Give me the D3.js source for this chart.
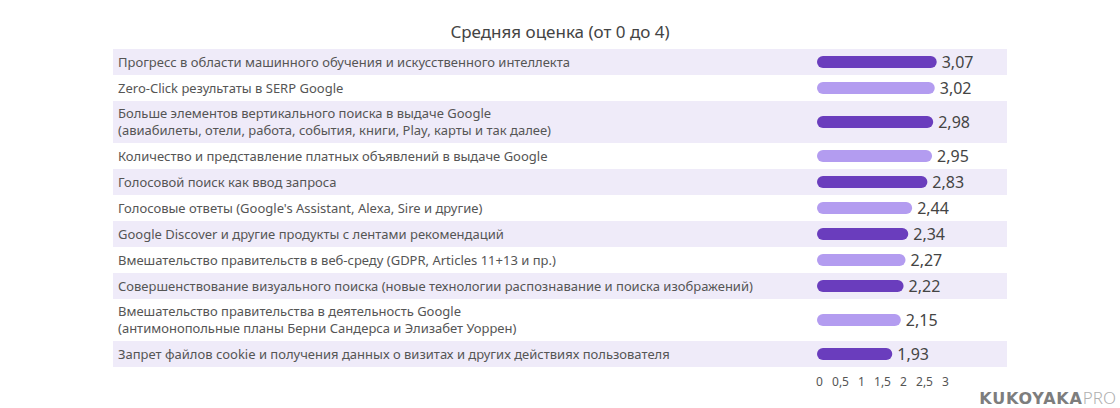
<!DOCTYPE html>
<html>
<head>
<meta charset="utf-8">
<script src="https://cdn.jsdelivr.net/npm/d3@7"></script>
<style>
html,body{margin:0;padding:0;background:#fff;}
svg{display:block;}
</style>
</head>
<body>
<svg id="chart" width="1120" height="408"></svg>
<script>
const title = "Средняя оценка (от 0 до 4)";
const categories = [
  ["Прогресс в области машинного обучения и искусственного интеллекта"],
  ["Zero-Click результаты в SERP Google"],
  ["Больше элементов вертикального поиска в выдаче Google", "(авиабилеты, отели, работа, события, книги, Play, карты и так далее)"],
  ["Количество и представление платных объявлений в выдаче Google"],
  ["Голосовой поиск как ввод запроса"],
  ["Голосовые ответы (Google's Assistant, Alexa, Sire и другие)"],
  ["Google Discover и другие продукты с лентами рекомендаций"],
  ["Вмешательство правительств в веб-среду (GDPR, Articles 11+13 и пр.)"],
  ["Совершенствование визуального поиска (новые технологии распознавание и поиска изображений)"],
  ["Вмешательство правительства в деятельность Google", "(антимонопольные планы Берни Сандерса и Элизабет Уоррен)"],
  ["Запрет файлов cookie и получения данных о визитах и других действиях пользователя"]
];
const values = [3.07, 3.02, 2.98, 2.95, 2.83, 2.44, 2.34, 2.27, 2.22, 2.15, 1.93];
const tickValues = [0, 0.5, 1, 1.5, 2, 2.5, 3];

const svg = d3.select("#chart");
const fmt = v => String(v).replace(".", ",");

// row layout
const rowTop = 49, singleH = 26, doubleH = 42;
let acc = rowTop;
const rows = categories.map((lines, i) => {
  const h = lines.length > 1 ? doubleH : singleH;
  const r = {lines, value: values[i], y: acc, h, i};
  acc += h;
  return r;
});

const bandLeft = 113, bandRight = 1007;
const x = d3.scaleLinear().domain([0, 4]).range([817, 973]);
const xAxisScale = d3.scaleLinear().domain([0, 3]).range([819, 945]);

const darkC = "#6a3dbd", lightC = "#b39cf0", bandC = "#efebf9";

// title
svg.append("text")
  .attr("x", 560).attr("y", 38)
  .attr("text-anchor", "middle")
  .attr("font-family", "'Noto Sans', sans-serif")
  .attr("font-size", 17)
  .attr("fill", "#444")
  .text(title);

const g = svg.append("g");
const row = g.selectAll("g.row").data(rows).join("g").attr("class", "row");

row.filter(d => d.i % 2 === 0).append("rect")
  .attr("x", bandLeft).attr("y", d => d.y)
  .attr("width", bandRight - bandLeft).attr("height", d => d.h)
  .attr("fill", bandC);

row.each(function(d) {
  const sel = d3.select(this);
  const cy = d.y + d.h / 2;
  const lh = 16.5;
  d.lines.forEach((ln, k) => {
    const off = (k - (d.lines.length - 1) / 2) * lh;
    sel.append("text")
      .attr("x", 118).attr("y", cy + off)
      .attr("dy", "0.35em")
      .attr("font-family", "'Noto Sans', sans-serif")
      .attr("font-size", 13)
      .attr("fill", "#555")
      .text(ln);
  });
});

const barH = 12;
row.append("rect")
  .attr("x", x(0))
  .attr("y", d => d.y + d.h / 2 - barH / 2)
  .attr("width", d => x(d.value) - x(0))
  .attr("height", barH)
  .attr("rx", barH / 2)
  .attr("fill", d => d.i % 2 === 0 ? darkC : lightC);

row.append("text")
  .attr("x", d => x(d.value) + 5)
  .attr("y", d => d.y + d.h / 2)
  .attr("dy", "0.35em")
  .attr("font-family", "'Noto Sans', sans-serif")
  .attr("font-size", 16)
  .attr("fill", "#444")
  .text(d => fmt(d.value));

// axis
const axis = d3.axisBottom(xAxisScale).tickValues(tickValues).tickSize(0).tickFormat(fmt);
const ag = svg.append("g").attr("transform", "translate(0,374)").call(axis);
ag.select(".domain").remove();
ag.selectAll("text")
  .attr("font-family", "'Noto Sans', sans-serif")
  .attr("font-size", 12)
  .attr("fill", "#555");

// logo
const logo = svg.append("text")
  .attr("x", 1116).attr("y", 404)
  .attr("text-anchor", "end")
  .attr("font-family", "'DejaVu Sans', sans-serif")
  .attr("font-size", 16);
logo.append("tspan").attr("font-weight", "bold").attr("fill", "#7d7d7d").attr("letter-spacing", 0.8).text("KUKOYAKA");
logo.append("tspan").attr("font-family", "'Noto Sans', sans-serif").attr("font-weight", "300").attr("font-size", 17).attr("fill", "#b0b0b0").text("PRO");
</script>
</body>
</html>
